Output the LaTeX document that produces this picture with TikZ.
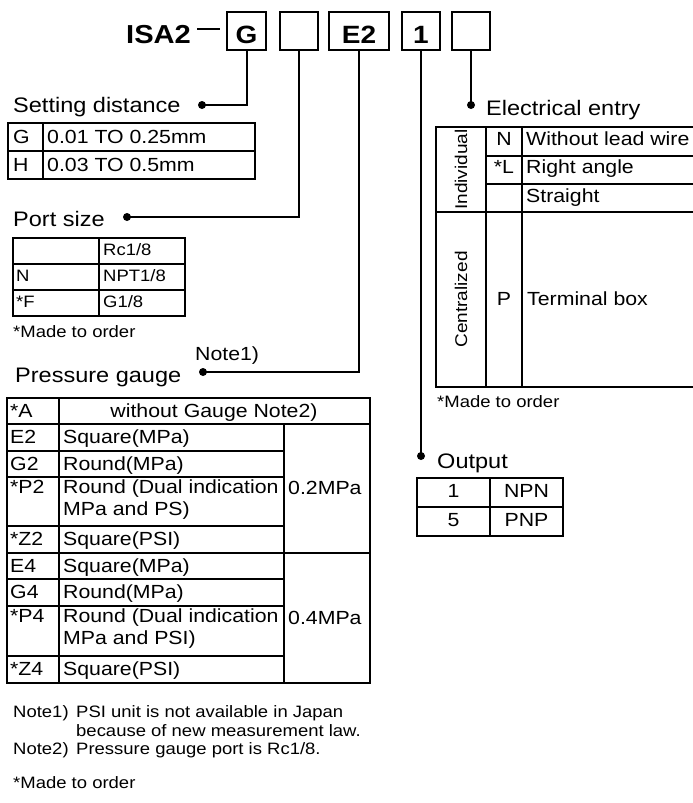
\documentclass[tikz,border=0pt]{standalone}
\usepackage{fontspec}
\setmainfont{Liberation Sans}[FakeStretch=1.12]
\begin{document}
\begin{tikzpicture}[x=1pt,y=-1pt,
  hdrbox/.style={draw,line width=2.2pt,minimum height=38pt,inner sep=0pt,
    text height=24pt,text depth=0pt,font=\bfseries\fontsize{25}{28}\selectfont},
  conn/.style={line width=2pt},
  tbl/.style={line width=1.3pt},
  dot/.style={circle,fill,inner sep=0pt,minimum size=8pt},
  title/.style={anchor=base west,inner sep=0pt,font=\fontsize{21}{25}\selectfont},
  cell/.style={anchor=base west,inner sep=0pt,font=\fontsize{19}{22}\selectfont},
  ccell/.style={anchor=base,inner sep=0pt,font=\fontsize{19}{22}\selectfont},
  small/.style={anchor=base west,inner sep=0pt,font=\fontsize{16.5}{20}\selectfont},
  rot/.style={rotate=90,inner sep=0pt,font=\fontsize{17}{20}\selectfont}]
\useasboundingbox (0,0) rectangle (693,803);

% header
\node[anchor=base west,inner sep=0pt,font=\bfseries\fontsize{26}{30}\selectfont] (isa) at (126,43) {ISA2};
\draw[line width=1.5pt] (197,29) -- (220,29);
\node[hdrbox,minimum width=39pt] (bG) at (246.5,31) {G};
\node[hdrbox,minimum width=38pt] (b2) at (299,31) {};
\node[hdrbox,minimum width=60pt] (bE) at (359,31) {E2};
\node[hdrbox,minimum width=38pt] (b4) at (421,31) {1};
\node[hdrbox,minimum width=38pt] (b5) at (471,31) {};

% dots
\node[dot] (dSD) at (202,105) {};
\node[dot] (dPS) at (127,217) {};
\node[dot] (dPG) at (203,372) {};
\node[dot] (dOut) at (421,456) {};
\node[dot] (dEE) at (471,105) {};

% connectors
\draw[conn] (bG.south) |- (dSD.center);
\draw[conn] (b2.south) |- (dPS.center);
\draw[conn] (bE.south) |- (dPG.center);
\draw[conn] (b4.south) -- (dOut.center);
\draw[conn] (b5.south) -- (dEE.center);

% Setting distance
\node[title] (tSD) at (13,112) {Setting distance};
\draw[tbl] (8,123) rectangle (255,179);
\draw[tbl] (8,151) -- (255,151);
\draw[tbl] (43,123) -- (43,179);
\node[cell] (sdG) at (13,143) {G};
\node[cell] (sdG2) at (47,143) {0.01 TO 0.25mm};
\node[cell] (sdH) at (13,171) {H};
\node[cell] (sdH2) at (47,171) {0.03 TO 0.5mm};

% Port size
\node[title] (tPS) at (13,226) {Port size};
\draw[tbl] (13,238) rectangle (185,316);
\draw[tbl] (13,264) -- (185,264);
\draw[tbl] (13,290) -- (185,290);
\draw[tbl] (99,238) -- (99,316);
\node[small] (ps1) at (103,255) {Rc1/8};
\node[small] (ps2a) at (16,281) {N};
\node[small] (ps2b) at (103,281) {NPT1/8};
\node[small] (ps3a) at (16,307) {*F};
\node[small] (ps3b) at (103,307) {G1/8};
\node[small] (psm) at (13,337) {*Made to order};

% Pressure gauge
\node[cell] (n1) at (195,360) {Note1)};
\node[title] (tPG) at (15,382) {Pressure gauge};
\draw[tbl] (7,398) rectangle (370,683);
\draw[tbl] (7,424) -- (370,424);
\draw[tbl] (7,553) -- (370,553);
\foreach \yy in {451,477,526,579,606,656} \draw[tbl] (7,\yy) -- (284,\yy);
\draw[tbl] (59,398) -- (59,683);
\draw[tbl] (284,424) -- (284,683);
\node[cell] (gA) at (10,417) {*A};
\node[ccell] (gA2) at (214,417) {without Gauge Note2)};
\node[cell] (gE2) at (10,443) {E2};
\node[cell] (gE2b) at (63,443) {Square(MPa)};
\node[cell] (gG2) at (10,470) {G2};
\node[cell] (gG2b) at (63,470) {Round(MPa)};
\node[cell] (gP2) at (10,493) {*P2};
\node[cell] (gP2b) at (63,493) {Round (Dual indication};
\node[cell] (gP2c) at (63,515) {MPa and PS)};
\node[cell] (gZ2) at (10,545) {*Z2};
\node[cell] (gZ2b) at (63,545) {Square(PSI)};
\node[cell] (g02) at (288,494) {0.2MPa};
\node[cell] (gE4) at (10,572) {E4};
\node[cell] (gE4b) at (63,572) {Square(MPa)};
\node[cell] (gG4) at (10,598) {G4};
\node[cell] (gG4b) at (63,598) {Round(MPa)};
\node[cell] (gP4) at (10,622) {*P4};
\node[cell] (gP4b) at (63,622) {Round (Dual indication};
\node[cell] (gP4c) at (63,644) {MPa and PSI)};
\node[cell] (gZ4) at (10,675) {*Z4};
\node[cell] (gZ4b) at (63,675) {Square(PSI)};
\node[cell] (g04) at (288,624) {0.4MPa};

% Electrical entry
\node[title] (tEE) at (486,115) {Electrical entry};
\draw[tbl] (693,127) -| (436,387) -- (693,387);
\draw[tbl] (436,212) -- (693,212);
\draw[tbl] (486,127) -- (486,387);
\draw[tbl] (522,127) -- (522,387);
\draw[tbl] (486,156) -- (693,156);
\draw[tbl] (486,184) -- (693,184);
\node[rot] (eInd) at (461,169.5) {Individual};
\node[rot] (eCen) at (461,299.5) {Centralized};
\node[ccell] (eN) at (504,145) {N};
\node[cell] (eN2) at (526,145) {Without lead wire};
\node[ccell] (eL) at (504,173) {*L};
\node[cell] (eL2) at (526,173) {Right angle};
\node[cell] (eS) at (526,202) {Straight};
\node[ccell] (eP) at (504,305) {P};
\node[cell] (eP2) at (527,305) {Terminal box};
\node[small] (em) at (437,407) {*Made to order};

% Output
\node[title] (tOut) at (437,468) {Output};
\draw[tbl] (417,478) rectangle (563,536);
\draw[tbl] (417,507) -- (563,507);
\draw[tbl] (490,478) -- (490,536);
\node[ccell] (o1) at (453.5,497) {1};
\node[ccell] (o1b) at (526.5,497) {NPN};
\node[ccell] (o5) at (453.5,526) {5};
\node[ccell] (o5b) at (526.5,526) {PNP};

% Notes
\node[small] (nt1) at (13,717) {Note1)};
\node[small] (nt1b) at (76,717) {PSI unit is not available in Japan};
\node[small] (nt1c) at (76,736) {because of new measurement law.};
\node[small] (nt2) at (13,754) {Note2)};
\node[small] (nt2b) at (76,754) {Pressure gauge port is Rc1/8.};
\node[small] (ntm) at (13,788) {*Made to order};
\end{tikzpicture}
\end{document}
